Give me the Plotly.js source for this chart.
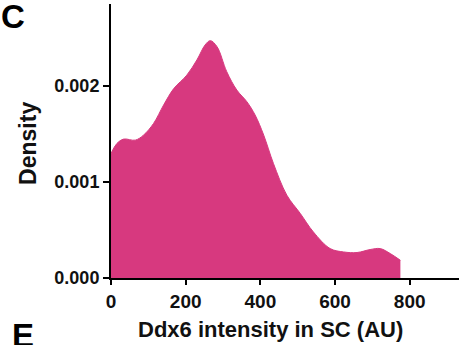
<!DOCTYPE html>
<html>
<head>
<meta charset="utf-8">
<script src="https://cdn.plot.ly/plotly-3.0.1.min.js"></script>
<style>html,body{margin:0;padding:0;background:#fff;}#chart{width:468px;height:345px;}</style>
</head>
<body>
<div id="chart"></div>
<script>
// Ddx6 intensity (AU) and estimated density values
var intensity = [0, 16, 34, 65, 87, 114, 141, 168, 203, 230, 252, 266, 284, 310, 337, 364, 386, 409, 435, 471, 507, 542, 587, 623, 659, 694, 721, 748, 775];
var density = [0.001296, 0.00140, 0.001445, 0.001434, 0.001486, 0.001608, 0.00180, 0.00197, 0.00211, 0.002268, 0.002424, 0.002469, 0.002406, 0.002146, 0.001955, 0.001833, 0.001695, 0.001486, 0.001192, 0.000861, 0.000671, 0.000479, 0.000306, 0.000271, 0.000265, 0.000296, 0.000306, 0.000254, 0.000184];
var xTicks = [0, 200, 400, 600, 800];
var yTicks = [0, 0.001, 0.002];
var yTickLabels = ["0.000", "0.001", "0.002"];

var pink = '#d7397f';
var fam = 'Liberation Sans, Arial, sans-serif';

var trace = {
  x: intensity,
  y: density,
  type: 'scatter',
  mode: 'lines',
  fill: 'tozeroy',
  fillcolor: pink,
  line: {color: pink, width: 1, shape: 'spline', smoothing: 1},
  hoverinfo: 'skip'
};

var layout = {
  width: 468,
  height: 345,
  margin: {l: 111, r: 9, t: 4, b: 67},
  paper_bgcolor: '#fff',
  plot_bgcolor: '#fff',
  showlegend: false,
  xaxis: {
    range: [0, 932],
    tickvals: xTicks,
    ticks: 'outside', ticklen: 5, tickwidth: 2, tickcolor: '#000',
    showline: true, linewidth: 2, linecolor: '#000',
    showgrid: false, zeroline: false,
    tickfont: {family: fam, size: 19, color: '#111', weight: 'bold'}
  },
  yaxis: {
    range: [0, 0.00285],
    tickvals: yTicks,
    ticktext: yTickLabels,
    ticks: 'outside', ticklen: 6, tickwidth: 2, tickcolor: '#000',
    showline: true, linewidth: 2, linecolor: '#000',
    showgrid: false, zeroline: false,
    tickfont: {family: fam, size: 18, color: '#111', weight: 'bold'}
  },
  annotations: [
    {text: 'Ddx6 intensity in SC (AU)', xref: 'paper', yref: 'paper', x: 0.457, y: -0.188,
     xanchor: 'center', yanchor: 'middle', showarrow: false,
     font: {family: fam, size: 22, color: '#111', weight: 'bold'}},
    {text: 'Density', xref: 'paper', yref: 'paper', x: -0.238, y: 0.49, textangle: -90,
     xanchor: 'center', yanchor: 'middle', showarrow: false,
     font: {family: fam, size: 23, color: '#111', weight: 'bold'}},
    {text: 'C', xref: 'paper', yref: 'paper', x: -0.322, y: 1.03,
     xanchor: 'left', yanchor: 'top', showarrow: false,
     font: {family: fam, size: 33, color: '#000', weight: 'bold'}},
    {text: 'E', xref: 'paper', yref: 'paper', x: -0.29, y: -0.135,
     xanchor: 'left', yanchor: 'top', showarrow: false,
     font: {family: fam, size: 33, color: '#000', weight: 'bold'}}
  ]
};

Plotly.newPlot('chart', [trace], layout, {staticPlot: true, displayModeBar: false});
</script>
</body>
</html>
